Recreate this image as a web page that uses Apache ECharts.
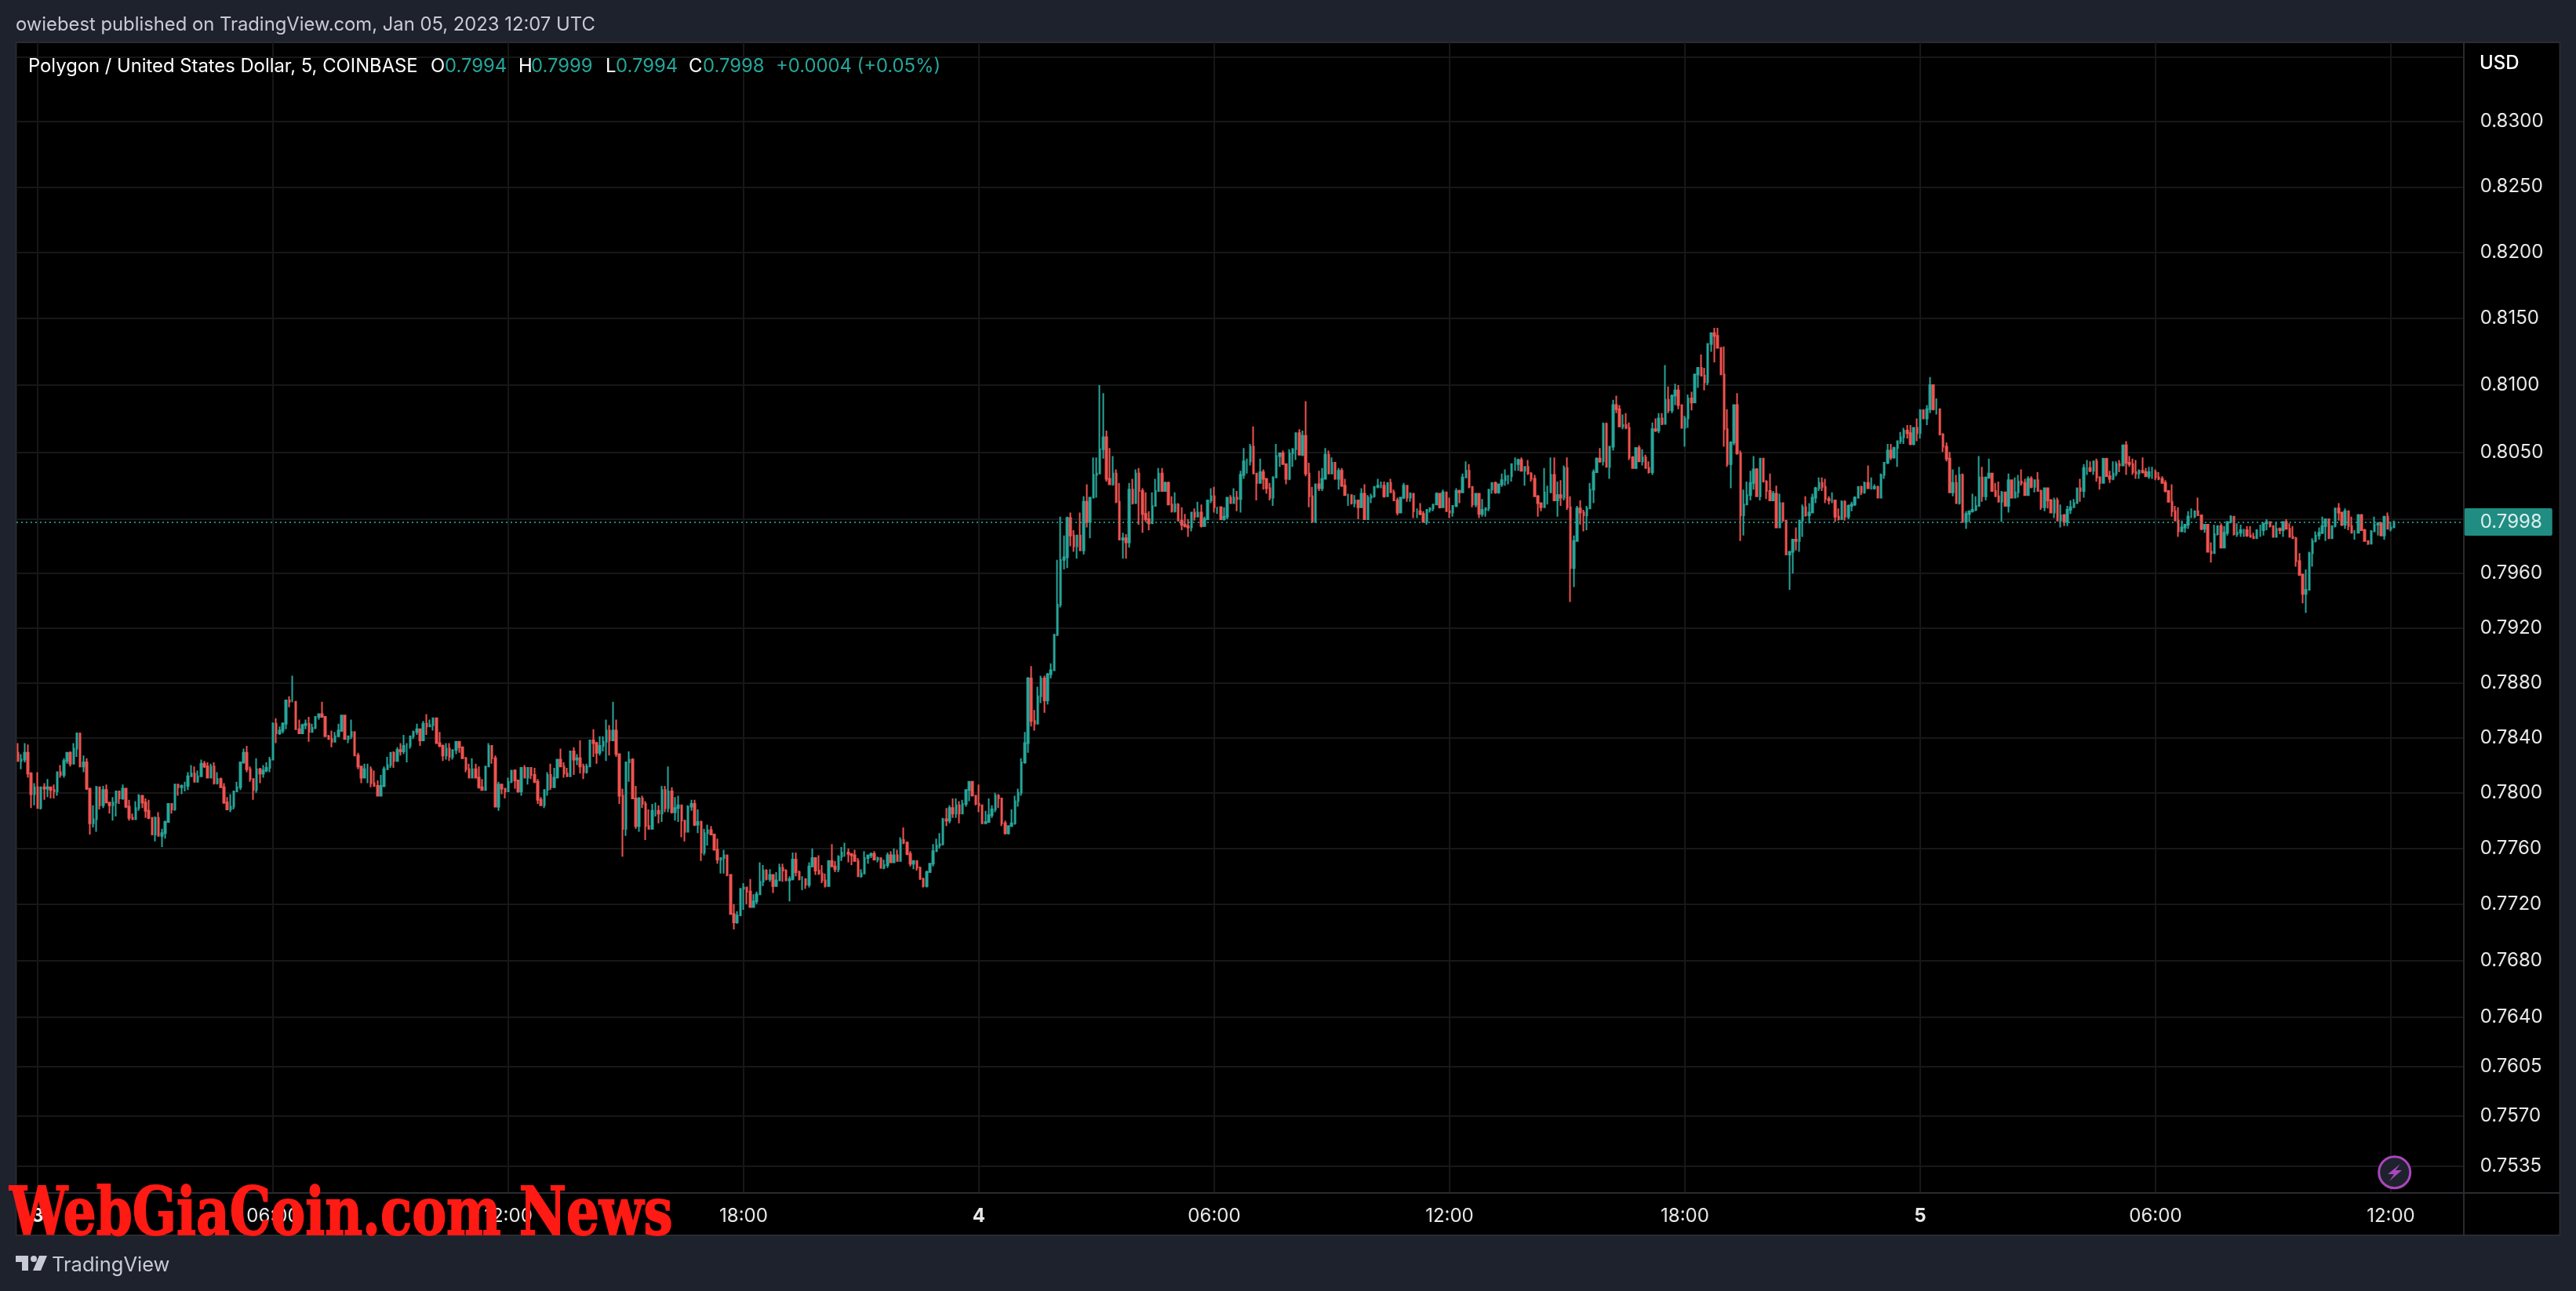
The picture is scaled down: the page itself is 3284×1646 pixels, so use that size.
<!DOCTYPE html>
<html><head><meta charset="utf-8"><style>html,body{margin:0;background:#1e222d}#c{width:3284px;height:1646px}</style>
<script src="https://cdn.jsdelivr.net/npm/echarts@6/dist/echarts.min.js"></script></head><body><div id="c"></div>
<script>
// Price in 1/10000 USD. Each list holds close,high,low per 5-minute bar; a bar opens at the previous close.
const firstOpen=7829;
const bars1=[7823,7836,7823,7824,7828,7817,7829,7836,7822,7814,7835,7811,7799,7815,7789,7804,7807,7791,7789,7815,7789,7804,7804,7788,7803,7807,7795,7804,7810,7797,7802,7804,7796,7801,7806,7796,7815,7815,7798,7813,7820,7811,7823,7825,7811,7829,7829,7821,7821,7830,7819,7832,7836,7821,7843,7843,7826,7819,7843,7819,7822,7827,7815,7803,7825,7802,7778,7803,7770,7781,7791,7775,7804,7805,7772,7791,7802,7788,7802,7805,7789,7793,7806,7793,7791,7793,7785,7793,7797,7780,7801,7801,7783,7796,7801,7792,7803,7806,7795,7790,7799,7789,7782,7795,7780,7781,7785,7781,7789,7794,7782,7798,7799,7787,7793,7798,7789,7787,7796,7782,7782,7795,7781,7770,7782,7770,7782,7783,7765,7769,7786,7769,7771,7774,7761,7779,7780,7767,7792,7792,7779,7788,7790,7785,7806,7806,7787,7804,7804,7798,7805,7806,7799,7805,7808,7801,7812,7815,7802,7814,7820,7812,7808,7819,7808,7812,7816,7810,7821,7824,7813,7819,7823,7818,7811,7822,7811,7819,7821,7811,7807,7822,7806,7810,7815,7806,7804,7811,7804,7793,7807,7792,7788,7797,7788,7790,7799,7786,7801,7801,7788,7804,7808,7801,7822,7822,7802,7829,7832,7821,7817,7834,7815,7810,7819,7808,7802,7810,7795,7817,7825,7800,7814,7818,7807,7816,7820,7811,7818,7822,7815,7824,7826,7815];
const bars2=[7850,7851,7824,7843,7854,7836,7845,7848,7842,7850,7851,7843,7867,7867,7846,7866,7870,7862,7866,7885,7866,7846,7864,7846,7843,7853,7843,7849,7850,7844,7850,7853,7846,7844,7855,7837,7847,7850,7845,7855,7855,7846,7857,7857,7853,7855,7866,7855,7841,7853,7841,7839,7842,7839,7837,7845,7833,7841,7844,7837,7845,7850,7842,7856,7856,7844,7839,7854,7839,7841,7841,7836,7844,7853,7839,7827,7844,7827,7819,7829,7817,7811,7819,7807,7817,7821,7811,7817,7821,7807,7807,7819,7804,7805,7816,7805,7798,7809,7798,7805,7813,7799,7817,7819,7804,7820,7826,7819,7829,7829,7818,7823,7830,7818,7831,7833,7824,7830,7836,7827,7834,7842,7828,7834,7836,7822,7841,7841,7832,7844,7845,7839,7846,7850,7842,7838,7846,7834,7850,7852,7838,7848,7857,7842,7849,7853,7848,7854,7854,7845,7836,7851,7836,7834,7844,7833,7827,7835,7823,7832,7836,7824,7826,7836,7823,7831,7831,7824,7837,7837,7828,7833,7836,7829,7825,7832,7825,7817,7826,7815,7811,7821,7811,7817,7825,7811,7811,7821,7811,7804,7819,7803,7802,7810,7802,7819,7819,7802];
const bars3=[7834,7836,7819,7825,7834,7821,7790,7827,7790,7806,7808,7787,7803,7806,7799,7801,7803,7796,7808,7811,7801,7816,7816,7807,7809,7817,7803,7801,7809,7800,7818,7818,7798,7811,7820,7811,7818,7818,7806,7813,7818,7810,7808,7818,7807,7795,7810,7792,7791,7797,7791,7802,7802,7789,7813,7815,7798,7804,7821,7802,7811,7818,7804,7824,7824,7811,7819,7832,7819,7814,7822,7811,7812,7818,7812,7830,7830,7813,7824,7833,7813,7825,7828,7820,7819,7838,7814,7815,7821,7810,7819,7821,7814,7838,7838,7820,7836,7846,7826,7829,7837,7821,7834,7841,7827,7837,7841,7830,7845,7853,7823,7838,7849,7827,7845,7866,7838,7828,7853,7826,7798,7828,7792,7774,7803,7754,7822,7822,7769];
const bars4=[7824,7830,7808,7796,7825,7796,7776,7805,7774,7796,7797,7772,7792,7798,7789,7776,7794,7766,7774,7788,7774,7787,7792,7779,7787,7793,7783,7785,7791,7778,7802,7805,7779,7789,7805,7786,7801,7819,7786,7786,7804,7785,7789,7797,7780,7791,7798,7779,7780,7791,7768,7772,7779,7765,7790,7791,7773,7792,7795,7787,7777,7795,7776,7779,7788,7771,7757,7780,7751,7771,7774,7755,7773,7777,7762,7770,7776,7770,7759,7770,7759,7752,7767,7749,7753,7753,7742,7755,7759,7742,7741,7755,7740,7713,7741,7713,7707,7720,7702,7712,7715,7706,7731,7731,7712,7732,7735,7716,7729,7731,7720,7718,7738,7718,7722,7727,7718,7727,7729,7720,7736,7750,7727,7744,7748,7733,7738,7745,7737,7741,7745,7736,7733,7741,7728,7737,7743,7733,7746,7749,7737,7744,7749,7736,7737,7745,7737,7738,7740,7722,7752,7757,7737,7743,7757,7740,7738,7744,7737,7738,7740,7730,7734,7738,7731,7747,7750,7732,7753,7760,7747,7744,7752,7741,7742,7755,7741,7737,7748,7735,7733,7742,7732,7751,7751,7734,7747,7763,7747,7745,7751,7743,7754,7755,7743,7757,7761,7751,7757,7764,7754,7756,7760,7750,7755,7756,7748,7751,7759,7751,7740,7753,7740,7742,7745,7739,7753,7758,7744,7755,7755,7749,7756,7757,7753,7752,7758,7752,7753,7754,7750,7746,7753,7746,7748,7752,7745,7755,7757,7746,7750,7758,7750,7755,7760,7751,7751,7759,7751,7766,7768,7752,7764,7775,7763,7756,7765,7755,7749,7758,7747,7751,7751,7745,7746,7751,7744,7738,7747,7738,7733,7739,7732,7743,7744,7732,7749,7749,7743,7758,7763,7747];
const bars5=[7762,7767,7760,7763,7771,7760,7781,7782,7762,7780,7789,7776,7789,7791,7778,7785,7796,7782,7791,7796,7782,7785,7794,7778,7792,7795,7785,7802,7802,7790,7808,7808,7794,7798,7808,7798,7792,7796,7791,7791,7806,7786,7778,7791,7778,7779,7787,7778,7784,7796,7780,7788,7791,7782,7798,7800,7786,7796,7799,7789,7778,7793,7776,7771,7780,7770,7776,7776,7770,7778,7788,7776,7794,7798,7777,7800,7803,7790,7822,7825,7798,7836,7844,7821,7883,7884,7829,7852,7892,7848,7850,7860,7845,7870,7877,7850,7883,7885,7865,7867,7885,7858,7886,7887,7864,7889,7894,7883,7915,7915,7889,7937,7970,7914,7970,8002,7935,7972,7988,7963,8001,8002,7964,7988,8005,7980,7980,7992,7976,7988,7988,7971,7977,8005,7977,8013,8017,7974,7998,8026,7994,8016,8016,7986,8033,8046,8016,8034,8046,8016,8052,8100,8036,8061,8094,8045,8030,8066,8028,8026,8053,8026,8034,8047,8025,8013,8037,8012,7985,8027,7985,7986,7990,7971,7983,7989,7971,8022,8027,7979,8012,8030,8011,8034,8037,8012,8021,8038,7996,8004,8023,7990,8000,8020,7998,7997,8006,7992,8010,8020,8002,8021,8030,8011,8034,8038,8021,8021,8038,8021,8027,8028,8021,8011,8028,8011,8006,8017,8005,8011,8020,8005,7999,8012,7999,7996,8009,7992,7995,8004,7994,7994,8000,7987,8005,8005,7991,8002,8008,7999,8005,8013,8002,7995,8011,7994,8000,8002,7995,8014,8014,8000,8017,8023,8012,8009,8024,8005,8009,8009,8004,8000,8009,8000,8002,8009,7999,8016,8016,8000,8012,8018,8012,8016,8023,8015,8015,8021,8006];
const bars6=[8033,8036,8005,8043,8053,8030,8043,8045,8034,8054,8056,8040,8034,8069,8034,8027,8034,8014,8035,8045,8027,8030,8037,8022,8023,8028,8019,8016,8027,8014,8031,8032,8010,8047,8056,8032,8049,8049,8039,8041,8051,8041,8030,8038,8026,8049,8052,8029,8052,8053,8039,8064,8064,8044,8048,8067,8048,8062,8066,8047,8034,8088,8032,8017,8042,8009,7998,8024,7998,8026,8026,8000,8023,8036,8021,8030,8038,8021,8048,8053,8030,8034,8051,8034,8042,8046,8036,8030,8042,8030,8036,8038,8022,8025,8038,8024,8018,8030,8018,8018,8019,8010,8012,8018,8011,8014,8018,8009,8009,8012,8000,8019,8023,8011,8000,8026,8000,8016,8018,8003,8017,8019,8012,8024,8024,8016,8025,8030,8023,8025,8028,8023,8017,8028,8016,8027,8027,8020,8020,8030,8020,8014,8022,8014,8005,8016,8003,8016,8016,8006,8025,8027,8015,8016,8025,8013,8019,8020,8013,8006,8019,8001,8006,8008,8001,8004,8012,8003,7998,8006,7998,8007,8007,7996,8008,8009,8005,8011,8011,8006,8019,8020,8011,8009,8017,8008,8020,8022,8011,8006,8020,8006,8005,8016,8001,8010,8010,8002,8021,8023,8009,8020,8022,8012,8031,8034,8021,8036,8043,8031,8024,8041,8023,8011,8023,8009,8019,8019,8009,8004,8019,8001,8007,8015,8002,8008,8009,8002,8022,8022,8006,8027,8027,8019,8020,8028,8019,8026,8026,8019,8029,8034,8024,8032,8037,8025,8032,8033,8026,8041,8041,8028,8041,8046,8036,8044,8045,8036,8036,8046,8036,8039,8039,8025,8034,8044,8033,8030,8035,8028,8017,8033,8017,8012,8018,8002,8009,8012,8006];
const bars7=[8020,8038,8010,8020,8025,8011,8033,8046,8020,8014,8046,8014,8018,8028,8002,8016,8029,8010,8038,8040,8014,8009,8046,8007,7964,8017,7939,7984,7988,7950,8008,8010,7986,8005,8014,7996,8003,8007,7991,8008,8010,7992,8022,8027,8009,8035,8037,8012,8045,8046,8035,8043,8053,8042,8071,8072,8040,8039,8072,8039,8054,8054,8030,8085,8089,8051,8082,8092,8079,8069,8085,8069,8070,8078,8067,8068,8079,8067,8046,8072,8044,8038,8047,8038,8053,8053,8038,8043,8055,8043,8046,8052,8040,8038,8048,8038,8035,8043,8034,8067,8072,8033,8066,8075,8065,8075,8079,8064,8071,8079,8070,8089,8115,8073,8081,8099,8079,8092,8093,8079,8096,8101,8085,8085,8100,8082,8068,8085,8068,8075,8077,8054,8090,8093,8068,8087,8095,8081,8108,8108,8087,8113,8113,8098,8107,8123,8107,8102,8113,8096,8131,8131,8100,8139,8139,8125,8137,8143,8117,8128,8143,8128,8108,8128,8108,8067,8129,8054,8041,8082,8039,8057,8058,8023,8085,8085,8055,8049,8094,8048,8003,8051,7984,8011,8022,7988,8018,8028,8013,8027,8036,8014,8037,8047,8022,8017,8038,8017,8045,8045,8014,8028,8044,8028,8021,8029,8015,8014,8034,8014,8019,8021,8014,7994,8025,7994,8012,8019,7996,7999,8012,7999,7974,7999,7974,7976,7976,7948,7985,7985,7960,7984,7994,7977,7999,7999,7976,8009,8011,7987,8003,8017,8002,8005,8012,7997,8016,8019,8005,8023,8024,8012,8027,8031,8021,8024,8031,8021,8015,8030,8012,8014,8017,8011,8014,8020,8012,8002,8014,7998,8000,8008,7999,8013,8014,8000,8002,8014,7999,8010,8011,8000];
const bars8=[8011,8013,8006,8016,8017,8010,8024,8024,8016,8020,8025,8018,8027,8028,8019,8023,8040,8023,8023,8031,8022,8024,8026,8022,8016,8025,8016,8033,8034,8016,8042,8042,8030,8051,8056,8041,8046,8056,8044,8053,8054,8045,8058,8058,8039,8061,8065,8056,8066,8068,8056,8064,8070,8060,8056,8070,8055,8068,8068,8055,8064,8075,8058,8081,8082,8060,8075,8082,8075,8082,8085,8070,8100,8106,8079,8082,8100,8081,8082,8090,8078,8063,8082,8063,8054,8064,8050,8045,8057,8043,8020,8050,8020,8027,8037,8017,8012,8033,8012,8033,8039,8011,7998,8034,7998,8004,8006,7993,8006,8006,7998,8007,8019,8005,8010,8017,8006,8031,8047,8010,8017,8039,8013,8031,8031,8014,8034,8045,8030,8021,8034,8021,8017,8027,8017,8013,8028,8013,8020,8021,7998,8010,8020,8010,8029,8034,8005,8016,8029,8016,8020,8031,8016,8028,8033,8016,8027,8037,8025,8018,8030,8018,8030,8032,8018,8024,8032,8023,8029,8029,8020,8021,8035,8021,8009,8022,8007,8023,8023,8006,8014,8021,8008,8005,8015,8005,8014,8016,8001,7999,8016,7999,8003,8011,7994,7998,8004,7995,8007,8010,7995,8009,8014,8004,8012,8015,8011,8023,8023,8012,8021,8030,8013,8038,8041,8016,8038,8044,8033,8036,8043,8035,8043,8043,8033,8031,8045,8028,8027,8032,8022,8045,8045,8027,8032,8045,8032,8030,8036,8027,8034,8043,8029,8041,8043,8032,8040,8044,8035,8055,8055,8042,8042,8058,8033,8041,8047,8039,8035,8045,8033,8034,8044,8030,8036,8037,8030,8035,8046,8034,8032,8038,8032,8035,8039,8030,8035,8039,8030,8031,8037,8029];
const bars9=[8030,8035,8029,8027,8032,8027,8021,8029,8020,8013,8020,8013,8006,8026,8002,7999,8010,7999,7991,8009,7987,7994,7999,7991,7996,7996,7990,8002,8006,7993,8002,8008,8001,8006,8006,8001,8003,8016,8003,7993,8003,7992,7996,7996,7990,7976,7996,7976,7975,7983,7968,7989,7996,7976,7995,7995,7988,7979,7997,7979,7990,7995,7982,7998,7998,7988,8002,8003,7997,7989,8002,7988,7990,7997,7987,7992,7996,7987,7992,7993,7987,7988,7995,7987,7987,7995,7987,7986,7990,7986,7992,7992,7986,7992,7996,7987,7997,7997,7988,7998,8000,7992,7995,7997,7994,7987,7995,7987,7993,7998,7987,7992,7994,7989,7998,7998,7987,7993,8000,7993,7987,7997,7987,7986,7995,7986,7969,7987,7965,7959,7975,7959,7945,7960,7938,7948,7963,7931,7975,7976,7959,7984,7986,7965,7988,7991,7983,7990,7994,7985,7995,8002,7989,8000,8000,7984,7986,7999,7986,7995,7995,7987,8008,8008,7994,8005,8012,7999,7996,8005,7995,8006,8008,7993,7995,8005,7992,7990,8002,7990,7990,7992,7985,8003,8004,7991,7992,8004,7992,7984,7993,7984,7982,7984,7981,7991,7992,7982,7996,8002,7991,7997,7998,7988,7988,7998,7988,8002,8002,7985,7993,8005,7993,7994,7998,7991,7998,7999,7994];
const yGridValues=[0.835,0.83,0.825,0.82,0.815,0.81,0.805,0.8,0.796,0.792,0.788,0.784,0.78,0.776,0.772,0.768,0.764,0.7605,0.757,0.7535];
const yLabelValues=[0.83,0.825,0.82,0.815,0.81,0.805,0.796,0.792,0.788,0.784,0.78,0.776,0.772,0.768,0.764,0.7605,0.757,0.7535];
const timeLabels=['3','06:00','12:00','18:00','4','06:00','12:00','18:00','5','06:00','12:00'];
const lastPrice=0.7998;
const UP='#26a69a',DOWN='#ef5350',FRAME='#2a2b30',GRID='#171717',SOFT='#c8cad4';

const flat=[].concat(bars1,bars2,bars3,bars4,bars5,bars6,bars7,bars8,bars9);
const ohlc=[];let prev=firstOpen;
for(let i=0;i+2<flat.length;i+=3){ohlc.push([prev/1e4,flat[i]/1e4,flat[i+2]/1e4,flat[i+1]/1e4]);prev=flat[i];}
const SLOTS=749,TICK0=6,STEP=72;
const cats=[];for(let i=0;i<SLOTS;i++)cats.push(String(i));
const isTick=i=>i>=TICK0&&(i-TICK0)%STEP===0;
const T=(text,x,y,fill,font,extra)=>({type:'text',x,y,z:50,silent:true,style:Object.assign({text,fill,font,verticalAlign:'middle'},extra||{})});
const HF='23.8px Inter',B='500 24px Inter';
const chart=echarts.init(document.getElementById('c'));
chart.setOption({animation:false,backgroundColor:'#1e222d',
grid:{left:20.9,width:3120.8,top:54,height:1467},
xAxis:{type:'category',data:cats,axisLine:{show:false},axisTick:{show:false,alignWithLabel:true},
 splitLine:{show:true,alignWithLabel:true,interval:(i)=>isTick(i),lineStyle:{color:GRID,width:2}},
 axisLabel:{interval:(i)=>isTick(i),margin:18,color:'#e8e8ea',fontFamily:'Inter',fontSize:24,
  formatter:(v,i)=>{const t=timeLabels[(i-TICK0)/STEP];return t.length===1?'{b|'+t+'}':t;},
  rich:{b:{fontWeight:'bold',fontFamily:'Inter',fontSize:24,color:'#e8e8ea'}}}},
yAxis:{type:'log',logBase:10,position:'right',min:0.75164,max:0.83611,axisLine:{show:false},
 axisTick:{show:false,customValues:yGridValues},
 axisLabel:{customValues:yLabelValues,margin:20,color:'#e8e8ea',fontFamily:'Inter',fontSize:24,formatter:v=>Number(v).toFixed(4)},
 splitLine:{show:true,lineStyle:{color:GRID,width:2}}},
series:[{type:'candlestick',large:false,data:ohlc,barWidth:2,itemStyle:{color:UP,color0:DOWN,borderColor:UP,borderColor0:DOWN,borderColorDoji:UP,borderWidth:2},
 markLine:{silent:true,symbol:'none',precision:4,lineStyle:{color:UP,type:[2,4],width:2,opacity:0.85},
  label:{position:'end',distance:0,formatter:lastPrice.toFixed(4),color:'#fff',fontFamily:'Inter',fontSize:24,backgroundColor:UP,padding:[6,13,5,20],borderRadius:2},
  data:[{yAxis:lastPrice}]}}],
graphic:[
 {type:'rect',z:-1,silent:true,shape:{x:20.5,y:54,width:3243,height:1521},style:{fill:'#000',stroke:FRAME,lineWidth:2}},
 {type:'line',z:40,silent:true,shape:{x1:3141,y1:54,x2:3141,y2:1575},style:{stroke:FRAME,lineWidth:2}},
 {type:'line',z:40,silent:true,shape:{x1:20.5,y1:1521,x2:3264,y2:1521},style:{stroke:FRAME,lineWidth:2}},
 T('owiebest published on TradingView.com, Jan 05, 2023 12:07 UTC',20,32,SOFT,HF),
 T('Polygon / United States Dollar, 5, COINBASE',36,85,'#fff',HF),
 T('O',549,85,'#fff',HF),T('0.7994',567,85,UP,HF),
 T('H',661,85,'#fff',HF),T('0.7999',677,85,UP,HF),
 T('L',772,85,'#fff',HF),T('0.7994',785,85,UP,HF),
 T('C',878,85,'#fff',HF),T('0.7998',896,85,UP,HF),
 T('+0.0004 (+0.05%)',989,85,UP,HF),
 T('USD',3161,81,'#fff',B),
 T('TradingView',66,1613,SOFT,'25.5px Inter'),
 {type:'rect',z:50,silent:true,shape:{x:20,y:1601,width:16,height:8},style:{fill:SOFT}},
 {type:'rect',z:50,silent:true,shape:{x:28,y:1601,width:8,height:19},style:{fill:SOFT}},
 {type:'circle',z:50,silent:true,shape:{cx:43,cy:1605,r:4},style:{fill:SOFT}},
 {type:'polygon',z:50,silent:true,shape:{points:[[50,1601],[60,1601],[52,1620],[42,1620]]},style:{fill:SOFT}},
 {type:'circle',z:50,silent:true,shape:{cx:3052.7,cy:1494.7,r:20},style:{fill:'#1e222d',stroke:'#ab47bc',lineWidth:3}},
 {type:'polygon',z:51,silent:true,shape:{points:[[3060,1484],[3044,1497],[3052,1497],[3046,1506],[3062,1492],[3054,1492]]},style:{fill:'#ab47bc'}},
 {type:'text',z:60,silent:true,x:10,y:1552,scaleX:0.775,originX:10,originY:1552,style:{text:'WebGiaCoin.com News',fill:'#ff1a14',stroke:'#ff1a14',lineWidth:2,font:'bold 85px "DejaVu Serif"',verticalAlign:'middle'}}
]});
</script></body></html>
